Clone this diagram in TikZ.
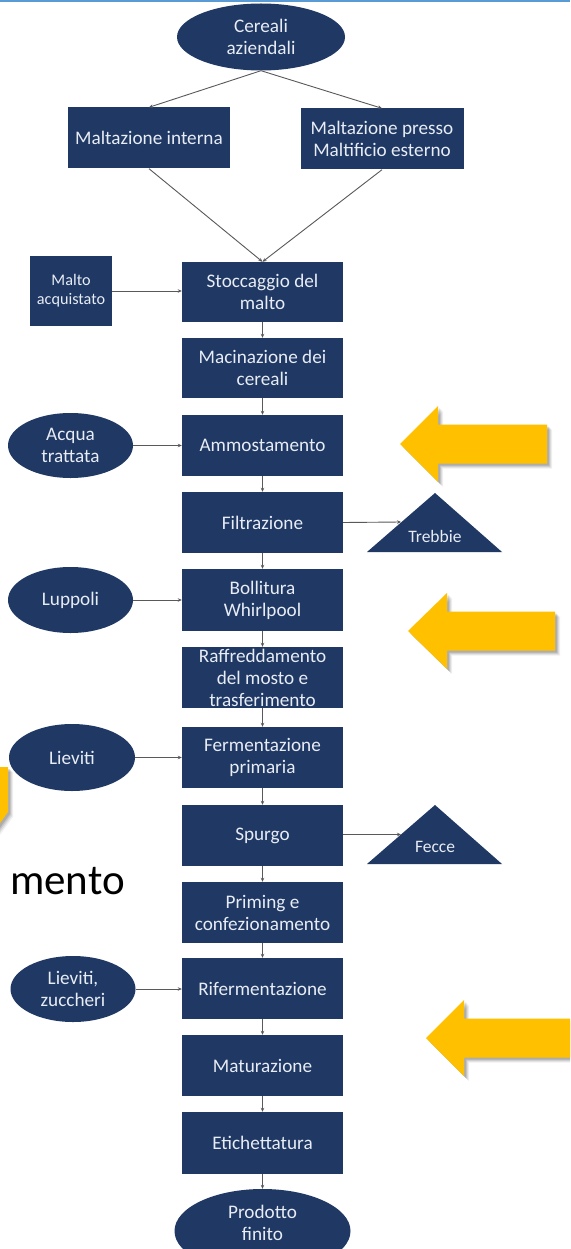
\documentclass[tikz,border=0pt]{standalone}
\usepackage{fontspec}
\setmainfont{Carlito}
\usetikzlibrary{shapes.geometric,arrows.meta}
\definecolor{navy}{RGB}{31,56,100}
\definecolor{gold}{RGB}{255,192,0}
\definecolor{connc}{RGB}{89,89,89}
\definecolor{topline}{RGB}{91,155,213}
\definecolor{boxtext}{RGB}{232,236,244}
\newcommand\goldarr[6]{% tip x, tip y, head back x, head half, body half, end x
  \foreach \s/\o in {5/0.06,4/0.08,3/0.1,2/0.12}{
    \fill[black,opacity=\o] (#1+\s,#2+\s) -- (#3+\s,#2-#4+\s) -- (#3+\s,#2-#5+\s) -- (#6+\s,#2-#5+\s)
      -- (#6+\s,#2+#5+\s) -- (#3+\s,#2+#5+\s) -- (#3+\s,#2+#4+\s) -- cycle;}
  \fill[gold] (#1,#2) -- (#3,#2-#4) -- (#3,#2-#5) -- (#6,#2-#5)
      -- (#6,#2+#5) -- (#3,#2+#5) -- (#3,#2+#4) -- cycle;
}
\begin{document}
\begin{tikzpicture}[x=1pt,y=-1pt,
  stepbox/.style={rectangle, fill=navy, text=boxtext, align=center, minimum width=161pt,
    minimum height=61pt, inner sep=0pt, font=\fontsize{19.2}{22}\selectfont},
  oval/.style={ellipse, fill=navy, text=boxtext, align=center, inner sep=0pt,
    minimum width=125pt, minimum height=66pt, font=\fontsize{19.2}{22}\selectfont},
  conn/.style={draw=connc, line width=0.9pt, -{Stealth[length=4pt,width=3.5pt]}},
  tritext/.style={text=boxtext, inner sep=0pt, font=\fontsize{17.5}{21}\selectfont},
  plaintext/.style={text=boxtext, align=center, inner sep=0pt, font=\fontsize{19.2}{22}\selectfont}
]
\useasboundingbox (0,0) rectangle (570,1249);
\clip (0,0) rectangle (570,1249);
\fill[white] (0,0) rectangle (570,1249);
\draw[topline, line width=2pt] (0,1) -- (570,1);

% top
\node[oval, minimum width=168pt, minimum height=67pt] (cer) at (261,37) {Cereali\\aziendali};
\node[stepbox, minimum width=162pt] (mi) at (149,138) {Maltazione interna};
\node[stepbox, minimum width=163pt] (me) at (382,139) {Maltazione presso\\Maltificio esterno};

% main column
\node[stepbox, minimum height=60pt] (sto) at (262.5,292) {Stoccaggio del\\malto};
\node[stepbox, minimum height=60pt] (mac) at (262.5,368) {Macinazione dei\\cereali};
\node[stepbox] (amm) at (262.5,445.5) {Ammostamento};
\node[stepbox] (fil) at (262.5,522.5) {Filtrazione};
\node[stepbox, minimum height=62pt] (bol) at (262.5,600) {Bollitura\\Whirlpool};
\node[stepbox] (raf) at (262.5,677.5) {Raffreddamento\\del mosto e\\trasferimento};
\node[stepbox] (fer) at (262.5,757.5) {Fermentazione\\primaria};
\node[stepbox] (spu) at (262.5,835.5) {Spurgo};
\node[stepbox] (pri) at (262.5,912.5) {Priming e\\confezionamento};
\node[stepbox] (rif) at (262.5,988.5) {Rifermentazione};
\node[stepbox] (mat) at (262.5,1065.5) {Maturazione};
\node[stepbox, minimum height=62pt] (eti) at (262.5,1143) {Etichettatura};
\node[oval, minimum width=176pt, minimum height=84pt] (pro) at (262.5,1231) {};
\node[plaintext] (protext) at (262.5,1223) {Prodotto\\finito};

% left inputs
\node[stepbox, minimum width=82pt, minimum height=70pt, font=\fontsize{16.2}{19}\selectfont] (mal) at (71,291) {Malto\\acquistato};
\node[oval, minimum height=65pt] (acq) at (70.5,445.5) {Acqua\\trattata};
\node[oval] (lup) at (70.5,600) {Luppoli};
\node[oval, minimum width=126pt, minimum height=67pt] (lie) at (72,757.5) {Lieviti};
\node[oval, minimum height=66pt] (liz) at (73,989) {Lieviti,\\zuccheri};

% triangles (waste outputs)
\fill[navy] (367,552) -- (435,493) -- (502,552) -- cycle;
\node[tritext] (treb) at (435,536) {Trebbie};
\coordinate (trebin) at (401,522);
\fill[navy] (367,864) -- (435,805) -- (502,864) -- cycle;
\node[tritext] (fec) at (435,847) {Fecce};
\coordinate (fecin) at (401,834.5);

% connectors
\draw[conn] (cer.south) -- (mi.north);
\draw[conn] (cer.south) -- (me.north);
\draw[conn] (mi.south) -- (sto.north);
\draw[conn] (me.south) -- (sto.north);
\draw[conn] (mal.east) -- (mal.east -| sto.west);
\draw[conn] (sto) -- (mac);
\draw[conn] (mac) -- (amm);
\draw[conn] (acq.east) -- (amm.west);
\draw[conn] (amm) -- (fil);
\draw[conn] (fil.east) -- (trebin);
\draw[conn] (fil) -- (bol);
\draw[conn] (lup.east) -- (bol.west);
\draw[conn] (bol) -- (raf);
\draw[conn] (raf) -- (fer);
\draw[conn] (lie.east) -- (fer.west);
\draw[conn] (fer) -- (spu);
\draw[conn] (spu.east |- fecin) -- (fecin);
\draw[conn] (spu) -- (pri);
\draw[conn] (pri) -- (rif);
\draw[conn] (liz.east) -- (liz.east -| rif.west);
\draw[conn] (rif) -- (mat);
\draw[conn] (mat) -- (eti);
\draw[conn] (eti) -- (pro);

% yellow arrows
\goldarr{400}{444}{438}{38}{19.5}{547}
\goldarr{408}{631}{447}{38}{19.5}{555}
\goldarr{426}{1038}{464}{38}{19.5}{585}
% partial arrow at left edge
\foreach \s/\o in {5/0.06,4/0.08,3/0.1,2/0.12}{
  \fill[black,opacity=\o] (-5+\s,767+\s) -- (8+\s,767+\s) -- (8+\s,812+\s) -- (-5+\s,830+\s) -- cycle;}
\fill[gold] (-5,767) -- (8,767) -- (8,812) -- (-5,830) -- cycle;

% stray text
\node[anchor=base west, inner sep=0pt, font=\fontsize{43}{50}\selectfont] (mento) at (10,894) {mento};
\end{tikzpicture}
\end{document}
